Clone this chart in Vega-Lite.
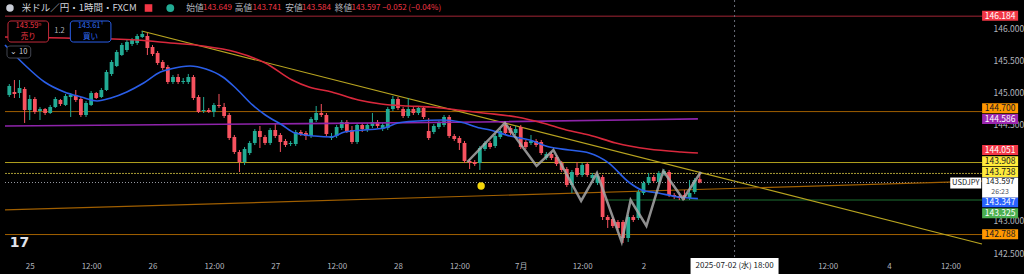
{
"$schema": "https://vega.github.io/schema/vega-lite/v6.json",
"width": 987, "height": 257,
"autosize": {"type": "none"},
"padding": {"left": 0, "top": 0, "right": 37, "bottom": 17},
"background": "#000000",
"config": {"view": {"stroke": null}, "font": "Noto Sans CJK JP",
  "axis": {"grid": false, "domain": false, "ticks": false, "tickSize": 0, "labelColor": "#b2b5be", "labelFontSize": 8.5}},
"resolve": {"scale": {"color": "independent", "fill": "independent", "stroke": "independent", "strokeDash": "independent", "size": "independent", "shape": "independent"}},
"datasets": {
"hlines": [
 {"key": "r146", "p": 146.184, "t": -4.84, "t2": 186.18},
 {"key": "o1447", "p": 144.700, "t": -4.84, "t2": 186.18},
 {"key": "y1439", "p": 143.908, "t": -4.84, "t2": 186.18},
 {"key": "y1437", "p": 143.738, "t": -4.84, "t2": 186.18},
 {"key": "cur", "p": 143.597, "t": -4.84, "t2": 186.18},
 {"key": "g1433", "p": 143.325, "t": 112, "t2": 186.18},
 {"key": "o1427", "p": 142.788, "t": -4.84, "t2": 186.18}
],
"slants": [
 {"key": "trend", "t": 21.87, "p": 145.953},
 {"key": "trend", "t": 186.18, "p": 142.641},
 {"key": "orange", "t": -4.84, "p": 143.170},
 {"key": "orange", "t": 186.18, "p": 143.620}
],
"candles": [
{"t":-4,"o":144.958,"h":145.129,"l":144.927,"c":145.098},
{"t":-3,"o":145.005,"h":145.191,"l":144.911,"c":144.974},
{"t":-2,"o":144.989,"h":145.191,"l":144.911,"c":145.067},
{"t":-1,"o":145.051,"h":145.082,"l":144.523,"c":144.725},
{"t":0,"o":144.725,"h":144.958,"l":144.569,"c":144.896},
{"t":1,"o":144.896,"h":144.927,"l":144.663,"c":144.694},
{"t":2,"o":144.709,"h":144.771,"l":144.569,"c":144.740},
{"t":3,"o":144.740,"h":144.756,"l":144.647,"c":144.678},
{"t":4,"o":144.678,"h":144.803,"l":144.663,"c":144.771},
{"t":5,"o":144.771,"h":144.927,"l":144.756,"c":144.896},
{"t":6,"o":144.880,"h":144.896,"l":144.787,"c":144.818},
{"t":7,"o":144.803,"h":144.974,"l":144.787,"c":144.943},
{"t":8,"o":144.927,"h":144.989,"l":144.616,"c":144.958},
{"t":9,"o":144.958,"h":145.036,"l":144.849,"c":144.880},
{"t":10,"o":144.896,"h":144.927,"l":144.616,"c":144.647},
{"t":11,"o":144.647,"h":144.865,"l":144.616,"c":144.834},
{"t":12,"o":144.803,"h":145.020,"l":144.787,"c":144.989},
{"t":13,"o":144.989,"h":145.005,"l":144.896,"c":144.911},
{"t":14,"o":144.927,"h":145.067,"l":144.911,"c":145.036},
{"t":15,"o":145.036,"h":145.347,"l":145.020,"c":145.316},
{"t":16,"o":145.285,"h":145.502,"l":145.254,"c":145.471},
{"t":17,"o":145.409,"h":145.658,"l":145.393,"c":145.627},
{"t":18,"o":145.580,"h":145.767,"l":145.565,"c":145.736},
{"t":19,"o":145.658,"h":145.813,"l":145.627,"c":145.782},
{"t":20,"o":145.751,"h":145.845,"l":145.720,"c":145.813},
{"t":21,"o":145.767,"h":145.907,"l":145.736,"c":145.876},
{"t":22,"o":145.860,"h":145.953,"l":145.845,"c":145.907},
{"t":23,"o":145.876,"h":145.922,"l":145.580,"c":145.689},
{"t":24,"o":145.705,"h":145.736,"l":145.565,"c":145.596},
{"t":25,"o":145.611,"h":145.642,"l":145.425,"c":145.456},
{"t":26,"o":145.471,"h":145.502,"l":145.347,"c":145.378},
{"t":27,"o":145.393,"h":145.425,"l":145.129,"c":145.160},
{"t":28,"o":145.160,"h":145.269,"l":145.129,"c":145.238},
{"t":29,"o":145.238,"h":145.285,"l":145.129,"c":145.160},
{"t":30,"o":145.160,"h":145.222,"l":145.129,"c":145.176},
{"t":31,"o":145.160,"h":145.285,"l":145.129,"c":145.238},
{"t":32,"o":145.238,"h":145.269,"l":144.880,"c":144.911},
{"t":33,"o":144.927,"h":144.958,"l":144.678,"c":144.694},
{"t":34,"o":144.709,"h":144.927,"l":144.678,"c":144.725},
{"t":35,"o":144.725,"h":144.756,"l":144.678,"c":144.694},
{"t":36,"o":144.694,"h":144.834,"l":144.616,"c":144.803},
{"t":37,"o":144.803,"h":144.974,"l":144.756,"c":144.787},
{"t":38,"o":144.771,"h":144.834,"l":144.600,"c":144.631},
{"t":39,"o":144.647,"h":144.678,"l":144.258,"c":144.289},
{"t":40,"o":144.305,"h":144.336,"l":144.040,"c":144.072},
{"t":41,"o":144.072,"h":144.103,"l":143.761,"c":143.916},
{"t":42,"o":143.916,"h":144.149,"l":143.869,"c":144.118},
{"t":43,"o":144.056,"h":144.243,"l":144.025,"c":144.212},
{"t":44,"o":144.212,"h":144.429,"l":144.180,"c":144.398},
{"t":45,"o":144.398,"h":144.476,"l":144.134,"c":144.305},
{"t":46,"o":144.305,"h":144.336,"l":144.180,"c":144.212},
{"t":47,"o":144.212,"h":144.445,"l":144.180,"c":144.414},
{"t":48,"o":144.414,"h":144.523,"l":144.289,"c":144.320},
{"t":49,"o":144.336,"h":144.367,"l":144.072,"c":144.227},
{"t":50,"o":144.243,"h":144.274,"l":144.149,"c":144.180},
{"t":51,"o":144.196,"h":144.243,"l":144.165,"c":144.212},
{"t":52,"o":144.196,"h":144.414,"l":144.165,"c":144.383},
{"t":53,"o":144.383,"h":144.414,"l":144.320,"c":144.351},
{"t":54,"o":144.367,"h":144.398,"l":144.258,"c":144.320},
{"t":55,"o":144.320,"h":144.616,"l":144.289,"c":144.585},
{"t":56,"o":144.569,"h":144.787,"l":144.538,"c":144.678},
{"t":57,"o":144.678,"h":144.818,"l":144.616,"c":144.647},
{"t":58,"o":144.647,"h":144.678,"l":144.320,"c":144.351},
{"t":59,"o":144.289,"h":144.367,"l":144.258,"c":144.320},
{"t":60,"o":144.320,"h":144.492,"l":144.289,"c":144.460},
{"t":61,"o":144.445,"h":144.569,"l":144.414,"c":144.538},
{"t":62,"o":144.538,"h":144.569,"l":144.367,"c":144.398},
{"t":63,"o":144.414,"h":144.476,"l":144.196,"c":144.227},
{"t":64,"o":144.227,"h":144.523,"l":144.196,"c":144.492},
{"t":65,"o":144.492,"h":144.523,"l":144.383,"c":144.429},
{"t":66,"o":144.414,"h":144.523,"l":144.383,"c":144.492},
{"t":67,"o":144.476,"h":144.678,"l":144.445,"c":144.538},
{"t":68,"o":144.538,"h":144.569,"l":144.445,"c":144.476},
{"t":69,"o":144.429,"h":144.523,"l":144.398,"c":144.492},
{"t":70,"o":144.445,"h":144.771,"l":144.414,"c":144.740},
{"t":71,"o":144.740,"h":144.943,"l":144.709,"c":144.896},
{"t":72,"o":144.896,"h":144.927,"l":144.725,"c":144.756},
{"t":73,"o":144.740,"h":144.771,"l":144.600,"c":144.631},
{"t":74,"o":144.631,"h":144.911,"l":144.600,"c":144.740},
{"t":75,"o":144.740,"h":144.771,"l":144.647,"c":144.678},
{"t":76,"o":144.678,"h":144.787,"l":144.647,"c":144.756},
{"t":77,"o":144.756,"h":144.787,"l":144.585,"c":144.616},
{"t":78,"o":144.398,"h":144.600,"l":144.258,"c":144.289},
{"t":79,"o":144.383,"h":144.507,"l":144.351,"c":144.476},
{"t":80,"o":144.460,"h":144.554,"l":144.429,"c":144.523},
{"t":81,"o":144.492,"h":144.647,"l":144.460,"c":144.616},
{"t":82,"o":144.616,"h":144.647,"l":144.289,"c":144.320},
{"t":83,"o":144.320,"h":144.351,"l":144.243,"c":144.274},
{"t":84,"o":144.289,"h":144.320,"l":144.103,"c":144.212},
{"t":85,"o":144.212,"h":144.243,"l":143.900,"c":143.932},
{"t":86,"o":143.932,"h":143.963,"l":143.807,"c":143.900},
{"t":87,"o":143.916,"h":143.947,"l":143.854,"c":143.885},
{"t":88,"o":143.900,"h":144.165,"l":143.792,"c":144.134},
{"t":89,"o":144.118,"h":144.243,"l":144.087,"c":144.212},
{"t":90,"o":144.212,"h":144.243,"l":144.118,"c":144.149},
{"t":91,"o":144.165,"h":144.351,"l":144.134,"c":144.320},
{"t":92,"o":144.305,"h":144.429,"l":144.274,"c":144.398},
{"t":93,"o":144.492,"h":144.538,"l":144.336,"c":144.367},
{"t":94,"o":144.445,"h":144.476,"l":144.336,"c":144.367},
{"t":95,"o":144.367,"h":144.476,"l":144.336,"c":144.429},
{"t":96,"o":144.460,"h":144.492,"l":144.118,"c":144.149},
{"t":97,"o":144.227,"h":144.258,"l":144.118,"c":144.149},
{"t":98,"o":144.212,"h":144.336,"l":144.180,"c":144.243},
{"t":99,"o":144.243,"h":144.274,"l":144.149,"c":144.180},
{"t":100,"o":144.227,"h":144.258,"l":144.025,"c":144.056},
{"t":101,"o":143.978,"h":144.072,"l":143.947,"c":144.040},
{"t":102,"o":144.040,"h":144.072,"l":143.947,"c":143.978},
{"t":103,"o":143.994,"h":144.025,"l":143.854,"c":143.885},
{"t":104,"o":143.900,"h":143.932,"l":143.761,"c":143.792},
{"t":105,"o":143.807,"h":143.838,"l":143.527,"c":143.558},
{"t":106,"o":143.558,"h":143.792,"l":143.434,"c":143.761},
{"t":107,"o":143.823,"h":143.916,"l":143.683,"c":143.714},
{"t":108,"o":143.714,"h":143.900,"l":143.683,"c":143.869},
{"t":109,"o":143.885,"h":143.916,"l":143.683,"c":143.714},
{"t":110,"o":143.667,"h":143.745,"l":143.636,"c":143.714},
{"t":111,"o":143.589,"h":143.730,"l":143.558,"c":143.698},
{"t":112,"o":143.683,"h":143.714,"l":143.014,"c":143.061},
{"t":113,"o":143.061,"h":143.092,"l":142.890,"c":143.014},
{"t":114,"o":143.030,"h":143.061,"l":142.890,"c":142.921},
{"t":115,"o":142.983,"h":143.014,"l":142.858,"c":142.890},
{"t":116,"o":142.983,"h":143.014,"l":142.656,"c":142.734},
{"t":117,"o":142.734,"h":143.092,"l":142.672,"c":143.061},
{"t":118,"o":143.061,"h":143.092,"l":142.983,"c":143.014},
{"t":119,"o":143.045,"h":143.481,"l":143.014,"c":143.450},
{"t":120,"o":143.434,"h":143.620,"l":143.403,"c":143.589},
{"t":121,"o":143.589,"h":143.745,"l":143.558,"c":143.683},
{"t":122,"o":143.683,"h":143.714,"l":143.589,"c":143.620},
{"t":123,"o":143.605,"h":143.776,"l":143.574,"c":143.745},
{"t":124,"o":143.730,"h":143.807,"l":143.698,"c":143.776},
{"t":125,"o":143.761,"h":143.792,"l":143.372,"c":143.403},
{"t":126,"o":143.403,"h":143.434,"l":143.341,"c":143.372},
{"t":127,"o":143.387,"h":143.418,"l":143.325,"c":143.356},
{"t":128,"o":143.403,"h":143.481,"l":143.325,"c":143.356},
{"t":129,"o":143.356,"h":143.636,"l":143.325,"c":143.434},
{"t":130,"o":143.450,"h":143.667,"l":143.418,"c":143.636},
{"t":131,"o":143.649,"h":143.741,"l":143.584,"c":143.597}
],
"ma": [
{"key":"purple","t":-4.84,"p":144.476},{"key":"purple","t":43.55,"p":144.507},{"key":"purple","t":88.06,"p":144.538},{"key":"purple","t":130.64,"p":144.586},
{"key":"red","t":-4.84,"p":145.860},{"key":"red","t":6.77,"p":145.845},{"key":"red","t":20.90,"p":145.813},{"key":"red","t":27.48,"p":145.767},{"key":"red","t":33.87,"p":145.720},{"key":"red","t":40.26,"p":145.627},{"key":"red","t":46.06,"p":145.456},{"key":"red","t":51.29,"p":145.191},{"key":"red","t":54.58,"p":145.082},{"key":"red","t":59.03,"p":145.005},{"key":"red","t":64.26,"p":144.880},{"key":"red","t":68.71,"p":144.818},{"key":"red","t":73.93,"p":144.787},{"key":"red","t":78.38,"p":144.771},{"key":"red","t":83.61,"p":144.725},{"key":"red","t":88.64,"p":144.678},{"key":"red","t":95.22,"p":144.616},{"key":"red","t":100.25,"p":144.523},{"key":"red","t":104.90,"p":144.414},{"key":"red","t":109.35,"p":144.336},{"key":"red","t":114.57,"p":144.212},{"key":"red","t":120.96,"p":144.118},{"key":"red","t":127.35,"p":144.072},{"key":"red","t":130.64,"p":144.056},
{"key":"blue","t":-4.84,"p":145.736},{"key":"blue","t":-0.97,"p":145.425},{"key":"blue","t":2.90,"p":145.160},{"key":"blue","t":6.77,"p":145.005},{"key":"blue","t":10.06,"p":144.927},{"key":"blue","t":13.16,"p":144.865},{"key":"blue","t":15.87,"p":144.911},{"key":"blue","t":18.97,"p":145.005},{"key":"blue","t":22.26,"p":145.145},{"key":"blue","t":25.55,"p":145.316},{"key":"blue","t":27.48,"p":145.362},{"key":"blue","t":31.35,"p":145.409},{"key":"blue","t":34.45,"p":145.362},{"key":"blue","t":37.74,"p":145.238},{"key":"blue","t":40.26,"p":145.067},{"key":"blue","t":43.55,"p":144.803},{"key":"blue","t":46.06,"p":144.647},{"key":"blue","t":49.35,"p":144.492},{"key":"blue","t":51.87,"p":144.367},{"key":"blue","t":55.74,"p":144.320},{"key":"blue","t":59.03,"p":144.305},{"key":"blue","t":61.54,"p":144.383},{"key":"blue","t":65.42,"p":144.414},{"key":"blue","t":69.29,"p":144.445},{"key":"blue","t":71.99,"p":144.523},{"key":"blue","t":75.87,"p":144.554},{"key":"blue","t":80.90,"p":144.569},{"key":"blue","t":84.19,"p":144.538},{"key":"blue","t":88.06,"p":144.445},{"key":"blue","t":90.0,"p":144.414},{"key":"blue","t":93.87,"p":144.320},{"key":"blue","t":97.74,"p":144.258},{"key":"blue","t":101.61,"p":144.149},{"key":"blue","t":105.48,"p":144.103},{"key":"blue","t":109.35,"p":144.056},{"key":"blue","t":113.22,"p":143.900},{"key":"blue","t":117.09,"p":143.605},{"key":"blue","t":119.61,"p":143.481},{"key":"blue","t":122.90,"p":143.434},{"key":"blue","t":126.77,"p":143.372},{"key":"blue","t":130.64,"p":143.347}
],
"zigzag": [
{"t":85.54,"p":143.916},{"t":92.90,"p":144.523},{"t":99.09,"p":143.854},{"t":102.38,"p":144.103},{"t":107.80,"p":143.310},{"t":110.90,"p":143.745},{"t":115.73,"p":142.672},{"t":117.48,"p":143.325},{"t":120.57,"p":142.921},{"t":123.86,"p":143.776},{"t":127.73,"p":143.341},{"t":131.22,"p":143.761}
],
"panels": [
{"kind":"sell","t":-4.26,"t2":3.68,"p":146.109,"p2":145.782},
{"kind":"buy","t":7.93,"t2":15.87,"p":146.109,"p2":145.782},
{"kind":"ten","t":-4.45,"t2":0.19,"p":145.720,"p2":145.533}
],
"ltexts": [
{"kind":"title","t":-1.55,"p":146.311,"text":"米ドル／円・1時間・FXCM"},
{"kind":"lab","t":30.58,"p":146.311,"text":"始値"},
{"kind":"val","t":33.87,"p":146.311,"text":"143.649"},
{"kind":"lab","t":40.06,"p":146.311,"text":"高値"},
{"kind":"val","t":43.55,"p":146.311,"text":"143.741"},
{"kind":"lab","t":49.93,"p":146.311,"text":"安値"},
{"kind":"val","t":53.22,"p":146.311,"text":"143.584"},
{"kind":"lab","t":59.61,"p":146.311,"text":"終値"},
{"kind":"val","t":62.90,"p":146.311,"text":"143.597"},
{"kind":"val","t":68.90,"p":146.311,"text":"−0.052 (−0.04%)"}
],
"ctexts": [
{"kind":"sell","t":-0.29,"p":146.024,"text":"143.59⁹"},
{"kind":"sell","t":-0.29,"p":145.860,"text":"売り"},
{"kind":"buy","t":11.90,"p":146.024,"text":"143.61¹"},
{"kind":"buy","t":11.90,"p":145.860,"text":"買い"},
{"kind":"grey","t":5.81,"p":145.953,"text":"1.2"},
{"kind":"ten","t":-2.13,"p":145.627,"text":"⌄ 10"}
],
"icons": [
{"kind":"clock","t":88.25,"p":143.543},
{"kind":"flag","t":-3.87,"p":146.311},
{"kind":"redflag","t":23.22,"p":146.311},
{"kind":"ring","t":27.48,"p":146.311},
{"kind":"dot","t":27.48,"p":146.311}
],
"logo": [{"t":-2.0,"p":142.66,"text":"17"}],
"plabels": [
{"label":"146.184","price":146.184,"t":189.72,"p":146.1913,"kind":"red"},
{"label":"144.700","price":144.700,"t":189.72,"p":144.7512,"kind":"orange"},
{"label":"144.586","price":144.586,"t":189.72,"p":144.5848,"kind":"purple"},
{"label":"144.051","price":144.051,"t":189.72,"p":144.1027,"kind":"red"},
{"label":"143.908","price":143.908,"t":189.72,"p":143.9269,"kind":"yellow"},
{"label":"143.738","price":143.738,"t":189.72,"p":143.7605,"kind":"yellow"},
{"label":"143.347","price":143.347,"t":189.72,"p":143.2893,"kind":"blue"},
{"label":"143.325","price":143.325,"t":189.72,"p":143.1182,"kind":"green"},
{"label":"142.788","price":142.788,"t":189.72,"p":142.7916,"kind":"orange"}
],
"cur": [{"label":"143.597","timer":"26:23","t":189.72,"p":143.597}],
"sym": [{"text":"USDJPY","t":183.0,"p":143.597}],
"cross": [{"t":137.8,"p":142.4386,"p2":146.4355,"text":"2025-07-02 (水)   18:00"}]
},
"encoding": {
 "x": {"field": "t", "type": "quantitative", "scale": {"domain": [-4.84, 186.18], "nice": false, "zero": false},
   "axis": {"values": [0,12,24,36,48,60,72,84,96,108,120,156,168,180],
     "labelExpr": "datum.value == 0 ? '25' : datum.value == 24 ? '26' : datum.value == 48 ? '27' : datum.value == 72 ? '28' : datum.value == 96 ? '7月' : datum.value == 120 ? '2' : datum.value == 168 ? '4' : '12:00'",
     "labelPadding": 5, "labelOverlap": false, "labelFlush": false, "title": null, "labelFontSize": 8}},
 "y": {"field": "p", "type": "quantitative", "scale": {"domain": [142.4386, 146.4355], "nice": false, "zero": false},
   "axis": {"orient": "right", "values": [142.5,143,144.5,145,145.5,146], "format": ".3f", "labelAlign": "left", "labelPadding": 6, "labelOverlap": false, "labelFlush": false, "title": null}}
},
"layer": [
{"data": {"name": "hlines"}, "mark": {"type": "rule", "strokeWidth": 1},
 "encoding": {
  "x2": {"field": "t2"},
  "stroke": {"field": "key", "type": "nominal", "scale": {"domain": ["r146","o1447","y1439","y1437","cur","g1433","o1427"], "range": ["#a12535","#a05f00","#b09f1e","#a89c35","#9598a1","#22803a","#a05f00"]}, "legend": null},
  "strokeDash": {"field": "key", "type": "nominal", "scale": {"domain": ["r146","o1447","y1439","y1437","cur","g1433","o1427"], "range": [[1,0],[1,0],[1,0],[2,1],[1,2],[1,0],[1,0]]}, "legend": null}
 }},
{"data": {"name": "slants"}, "mark": {"type": "line", "strokeWidth": 1.2},
 "encoding": {
  "detail": {"field": "key"},
  "stroke": {"field": "key", "type": "nominal", "scale": {"domain": ["trend","orange"], "range": ["#b8a420","#a05f00"]}, "legend": null}
 }},
{"data": {"name": "candles"}, "mark": {"type": "rule", "strokeWidth": 1},
 "encoding": {
  "y": {"field": "l", "type": "quantitative", "scale": {"domain": [142.4386, 146.4355], "nice": false, "zero": false},
    "axis": {"orient": "right", "values": [142.5,143,144.5,145,145.5,146], "format": ".3f", "labelAlign": "left", "labelPadding": 6, "labelOverlap": false, "labelFlush": false, "title": null}},
  "y2": {"field": "h"},
  "color": {"condition": {"test": "datum.c >= datum.o", "value": "#22ab94"}, "value": "#f7525f"}
 }},
{"data": {"name": "candles"}, "mark": {"type": "bar", "size": 3.8},
 "encoding": {
  "y": {"field": "o", "type": "quantitative", "scale": {"domain": [142.4386, 146.4355], "nice": false, "zero": false},
    "axis": {"orient": "right", "values": [142.5,143,144.5,145,145.5,146], "format": ".3f", "labelAlign": "left", "labelPadding": 6, "labelOverlap": false, "labelFlush": false, "title": null}},
  "y2": {"field": "c"},
  "color": {"condition": {"test": "datum.c >= datum.o", "value": "#22ab94"}, "value": "#f7525f"}
 }},
{"data": {"name": "ma"}, "mark": {"type": "line", "strokeWidth": 1.6, "interpolate": "monotone"},
 "encoding": {
  "detail": {"field": "key"},
  "stroke": {"field": "key", "type": "nominal", "scale": {"domain": ["purple","red","blue"], "range": ["#8e24aa","#d9283c","#2a5ee8"]}, "legend": null}
 }},
{"data": {"name": "zigzag"}, "mark": {"type": "line", "strokeWidth": 2.5, "color": "#a8a8a8", "opacity": 0.85}},
{"data": {"name": "cross"}, "mark": {"type": "rule", "color": "#6a6d78", "strokeDash": [2, 3], "strokeWidth": 1},
 "encoding": {"y2": {"field": "p2"}}},
{"data": {"name": "panels"}, "mark": {"type": "rect", "cornerRadius": 3, "strokeWidth": 1, "fill": "#000000"},
 "encoding": {
  "x2": {"field": "t2"},
  "y2": {"field": "p2"},
  "stroke": {"field": "kind", "type": "nominal", "scale": {"domain": ["sell","buy","ten"], "range": ["#c22a3a","#2a5ee8","#434651"]}, "legend": null}
 }},
{"data": {"name": "ltexts"}, "mark": {"type": "text", "align": "left", "baseline": "middle"},
 "encoding": {
  "text": {"field": "text"},
  "color": {"field": "kind", "type": "nominal", "scale": {"domain": ["title","lab","val"], "range": ["#d1d4dc","#b2b5be","#f23645"]}, "legend": null},
  "size": {"field": "kind", "type": "nominal", "scale": {"domain": ["title","lab","val"], "range": [9.5, 8, 8]}, "legend": null}
 }},
{"data": {"name": "ctexts"}, "mark": {"type": "text", "align": "center", "baseline": "middle", "fontSize": 7.5},
 "encoding": {
  "text": {"field": "text"},
  "color": {"field": "kind", "type": "nominal", "scale": {"domain": ["sell","buy","grey","ten"], "range": ["#f23645","#2f6cf5","#b2b5be","#d1d4dc"]}, "legend": null}
 }},
{"data": {"name": "icons"}, "mark": {"type": "point", "filled": true, "opacity": 1},
 "encoding": {
  "color": {"field": "kind", "type": "nominal", "scale": {"domain": ["clock","flag","redflag","ring","dot"], "range": ["#f5d60a","#c9ccd6","#f23645","#0d3b30","#22ab94"]}, "legend": null},
  "size": {"field": "kind", "type": "nominal", "scale": {"domain": ["clock","flag","redflag","ring","dot"], "range": [55, 60, 36, 110, 22]}, "legend": null},
  "shape": {"field": "kind", "type": "nominal", "scale": {"domain": ["clock","flag","redflag","ring","dot"], "range": ["circle","circle","square","circle","circle"]}, "legend": null}
 }},
{"data": {"name": "logo"}, "mark": {"type": "text", "fontSize": 14, "fontWeight": "bold", "color": "#e0e3eb", "font": "DejaVu Sans", "align": "center", "baseline": "middle"},
 "encoding": {"text": {"field": "text"}}},
{"data": {"name": "plabels"}, "mark": {"type": "rect", "xOffset": -18, "x2Offset": 18, "yOffset": -5, "y2Offset": 5},
 "encoding": {
  "x2": {"field": "t"},
  "y2": {"field": "p"},
  "fill": {"field": "kind", "type": "nominal", "scale": {"domain": ["red","orange","purple","yellow","blue","green"], "range": ["#f23645","#ff9800","#9c27b0","#ffeb3b","#2962ff","#4caf50"]}, "legend": null}
 }},
{"data": {"name": "plabels"}, "mark": {"type": "text", "align": "center", "baseline": "middle", "fontSize": 8.5},
 "encoding": {
  "text": {"field": "label"},
  "color": {"field": "kind", "type": "nominal", "scale": {"domain": ["red","orange","purple","yellow","blue","green"], "range": ["#ffffff","#131722","#ffffff","#131722","#ffffff","#ffffff"]}, "legend": null}
 }},
{"data": {"name": "cur"}, "mark": {"type": "rect", "fill": "#ffffff", "xOffset": -18, "x2Offset": 18, "yOffset": -5, "y2Offset": 15},
 "encoding": {"x2": {"field": "t"}, "y2": {"field": "p"}}},
{"data": {"name": "cur"}, "mark": {"type": "text", "align": "center", "baseline": "middle", "fontSize": 8, "color": "#131722", "dy": -0.5},
 "encoding": {"text": {"field": "label"}}},
{"data": {"name": "cur"}, "mark": {"type": "text", "align": "center", "baseline": "middle", "fontSize": 7, "color": "#50535e", "dy": 9.5},
 "encoding": {"text": {"field": "timer"}}},
{"data": {"name": "sym"}, "mark": {"type": "rect", "fill": "#ffffff", "xOffset": -15.5, "x2Offset": 15.5, "yOffset": -5, "y2Offset": 6},
 "encoding": {"x2": {"field": "t"}, "y2": {"field": "p"}}},
{"data": {"name": "sym"}, "mark": {"type": "text", "align": "center", "baseline": "middle", "fontSize": 7.5, "color": "#131722", "dy": 0.5},
 "encoding": {"text": {"field": "text"}}},
{"data": {"name": "cross"}, "mark": {"type": "rect", "fill": "#ffffff", "xOffset": -44, "x2Offset": 44, "yOffset": 1, "y2Offset": 17},
 "encoding": {"x2": {"field": "t"}, "y2": {"field": "p"}}},
{"data": {"name": "cross"}, "mark": {"type": "text", "align": "center", "baseline": "middle", "fontSize": 8, "color": "#131722", "dy": 9},
 "encoding": {"text": {"field": "text"}}}
]
}
